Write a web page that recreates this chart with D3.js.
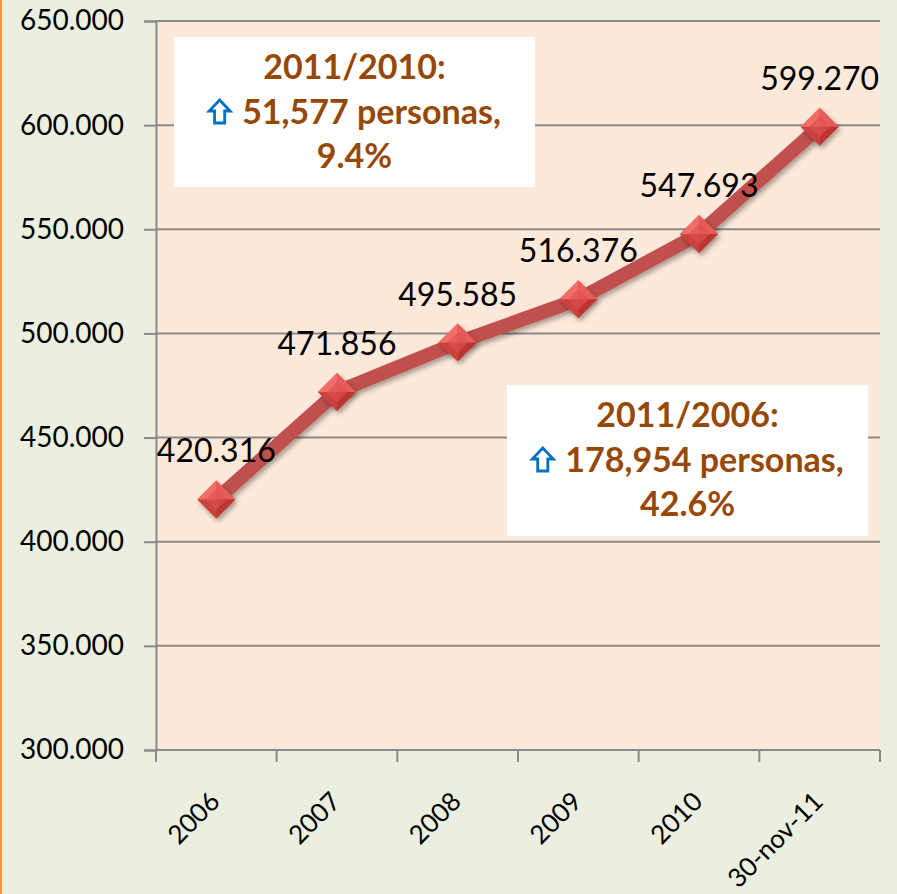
<!DOCTYPE html>
<html>
<head>
<meta charset="utf-8">
<script src="https://cdn.jsdelivr.net/npm/d3@7/dist/d3.min.js"></script>
<style>
  html, body { margin: 0; padding: 0; background: #EBEFDF; }
  svg { display: block; }
  .axis text { font-family: Lato, "Liberation Sans", sans-serif; fill: #000; }
  .ylab text { font-size: 28px; }
  .xlab { font-size: 26px; }
  .label { font-family: Lato, "Liberation Sans", sans-serif; font-size: 32px; fill: #000; }
  .note { font-family: Lato, "Liberation Sans", sans-serif; font-size: 34px; font-weight: bold; fill: #974806; }
</style>
</head>
<body>
<div id="chart"></div>
<script>
// Chart data
var categories = ["2006", "2007", "2008", "2009", "2010", "30-nov-11"];
var values = [420316, 471856, 495585, 516376, 547693, 599270];
var yTicks = [300000, 350000, 400000, 450000, 500000, 550000, 600000, 650000];
var noteTop = ["2011/2010:", "51,577 personas,", "9.4%"];
var noteBottom = ["2011/2006:", "178,954 personas,", "42.6%"];

var W = 897, H = 894;
var margin = {top: 21, right: 17, bottom: 144, left: 156};
var width = W - margin.left - margin.right;
var height = H - margin.top - margin.bottom;

var locale = d3.formatLocale({decimal: ",", thousands: ".", grouping: [3], currency: ["", ""]});
var fmt = locale.format(",d");

var svg = d3.select("#chart").append("svg")
    .attr("width", W)
    .attr("height", H);

// orange edge on the left
svg.append("rect").attr("x", 0).attr("y", 0).attr("width", 2).attr("height", H).attr("fill", "#F79646");

var defs = svg.append("defs");
var sh = defs.append("filter").attr("id", "shadow").attr("x", "-50%").attr("y", "-50%").attr("width", "200%").attr("height", "200%");
sh.append("feDropShadow").attr("dx", 2).attr("dy", 3).attr("stdDeviation", 2.5).attr("flood-color", "#000").attr("flood-opacity", 0.35);

var x = d3.scaleBand().domain(categories).range([0, width]);
var y = d3.scaleLinear().domain([300000, 650000]).range([height, 0]);

var g = svg.append("g").attr("transform", "translate(" + margin.left + "," + margin.top + ")");

g.append("rect").attr("width", width).attr("height", height).attr("fill", "#FDE9DA");

// gridlines
g.append("g").selectAll("line").data(yTicks.slice(1)).enter().append("line")
    .attr("x1", 0).attr("x2", width)
    .attr("y1", function(d) { return y(d); }).attr("y2", function(d) { return y(d); })
    .attr("stroke", "#8A8A8A").attr("stroke-width", 2);

// Y axis
var yAxis = g.append("g").attr("class", "axis ylab")
    .call(d3.axisLeft(y).tickValues(yTicks).tickSize(12).tickPadding(20).tickFormat(fmt));
yAxis.select(".domain").attr("stroke", "#8A8A8A").attr("stroke-width", 2);
yAxis.selectAll(".tick line").attr("stroke", "#8A8A8A").attr("stroke-width", 2);

// X axis (ticks at band edges)
var xAxis = g.append("g").attr("class", "axis").attr("transform", "translate(0," + height + ")");
xAxis.append("line").attr("x1", 0).attr("x2", width).attr("stroke", "#8A8A8A").attr("stroke-width", 2);
var edges = categories.map(function(c) { return x(c); }).concat([width]);
xAxis.selectAll(".xt").data(edges).enter().append("line")
    .attr("x1", function(d) { return d; }).attr("x2", function(d) { return d; })
    .attr("y1", 0).attr("y2", 12)
    .attr("stroke", "#8A8A8A").attr("stroke-width", 2);
xAxis.selectAll(".xl").data(categories).enter().append("text")
    .attr("class", "xlab")
    .attr("transform", function(d) {
      return "translate(" + (x(d) + x.bandwidth() / 2 - 8) + ",40) rotate(-45)";
    })
    .attr("text-anchor", "end")
    .attr("dy", "0.71em")
    .text(function(d) { return d; });

// line
var pts = categories.map(function(c, i) { return {c: c, v: values[i]}; });
var line = d3.line()
    .x(function(d) { return x(d.c) + x.bandwidth() / 2; })
    .y(function(d) { return y(d.v); });
g.append("path").datum(pts)
    .attr("d", line)
    .attr("fill", "none")
    .attr("stroke", "#C0504D")
    .attr("stroke-width", 14)
    .attr("stroke-linejoin", "round")
    .attr("filter", "url(#shadow)");

// markers: beveled diamonds
var r = 19;
var faces = [
  {p: [[0, -r], [r, 0], [0, 0]], c: "#E65C5A"},
  {p: [[r, 0], [0, r], [0, 0]], c: "#B8322F"},
  {p: [[0, r], [-r, 0], [0, 0]], c: "#C8403D"},
  {p: [[-r, 0], [0, -r], [0, 0]], c: "#F2706C"}
];
var mk = g.selectAll(".mk").data(pts).enter().append("g")
    .attr("transform", function(d) { return "translate(" + (x(d.c) + x.bandwidth() / 2) + "," + y(d.v) + ")"; })
    .attr("filter", "url(#shadow)");
mk.append("path").attr("d", "M0," + (-r) + "L" + r + ",0L0," + r + "L" + (-r) + ",0Z").attr("fill", "#D9504D");
faces.forEach(function(f) {
  mk.append("path").attr("d", "M" + f.p.join("L") + "Z").attr("fill", f.c).attr("opacity", 0.9);
});
mk.append("path").attr("d", "M0," + (-r * 0.55) + "L" + (r * 0.55) + ",0L0," + (r * 0.55) + "L" + (-r * 0.55) + ",0Z").attr("fill", "#E0514F").attr("opacity", 0.6);

// data labels
g.selectAll(".label").data(pts).enter().append("text")
    .attr("class", "label")
    .attr("x", function(d) { return x(d.c) + x.bandwidth() / 2; })
    .attr("y", function(d) { return y(d.v) - 37; })
    .attr("text-anchor", "middle")
    .text(function(d) { return fmt(d.v); });

// annotation boxes
function note(lines, bx, by, bw, bh) {
  var nb = svg.append("g");
  nb.append("rect").attr("x", bx).attr("y", by).attr("width", bw).attr("height", bh).attr("fill", "#fff");
  var cx = bx + bw / 2;
  nb.append("text").attr("class", "note").attr("x", cx).attr("y", by + 42).attr("text-anchor", "middle").text(lines[0]);
  // second line: outlined up arrow followed by text, centred together
  var t = nb.append("text").attr("class", "note").attr("y", by + 87).text(lines[1]);
  var tw = t.node().getComputedTextLength();
  var aw = 23, gap = 11;
  var x0 = cx - (aw + gap + tw) / 2;
  t.attr("x", x0 + aw + gap);
  var ay = by + 87 - 24;
  nb.append("path")
      .attr("d", "M" + (x0 + aw / 2) + "," + ay +
                 "L" + (x0 + aw - 1) + "," + (ay + 11) +
                 "L" + (x0 + aw * 0.72) + "," + (ay + 11) +
                 "L" + (x0 + aw * 0.72) + "," + (ay + 23) +
                 "L" + (x0 + aw * 0.28) + "," + (ay + 23) +
                 "L" + (x0 + aw * 0.28) + "," + (ay + 11) +
                 "L" + (x0 + 1) + "," + (ay + 11) + "Z")
      .attr("fill", "#fff").attr("stroke", "#0070C0").attr("stroke-width", 2.8)
      .attr("stroke-linejoin", "miter");
  nb.append("text").attr("class", "note").attr("x", cx).attr("y", by + 131).attr("text-anchor", "middle").text(lines[2]);
}
note(noteTop, 174, 37, 361, 150);
note(noteBottom, 507, 385, 361, 151);
</script>
</body>
</html>
